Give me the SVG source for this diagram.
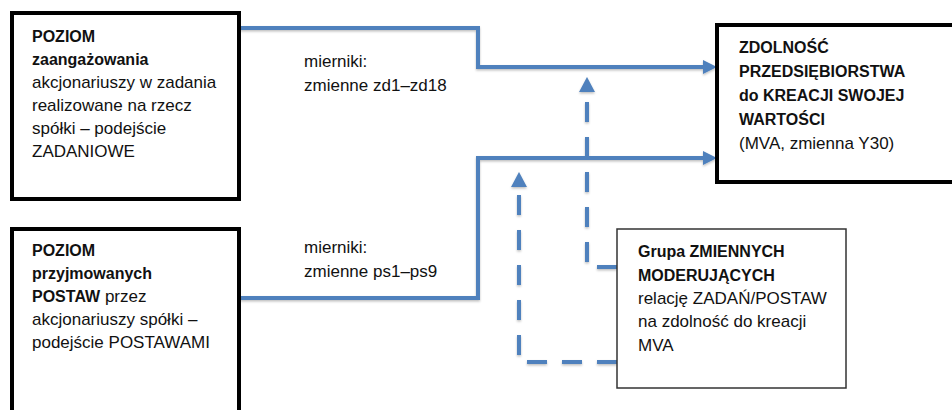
<svg xmlns="http://www.w3.org/2000/svg" width="952" height="410" viewBox="0 0 952 410">
  <style>
    .box { fill: #ffffff; stroke: #000000; stroke-width: 4; }
    .thin { fill: #ffffff; stroke: #333333; stroke-width: 1.5; }
    text { font-family: "Liberation Sans", Arial, sans-serif; font-size: 17px; fill: #111111; }
    .b { font-weight: bold; font-size: 16px; }
    .link { fill: none; stroke: #4F81BD; stroke-width: 4; }
    .dash { stroke-dasharray: 20 15; }
  </style>
  <defs>
    <marker id="arrow" markerUnits="userSpaceOnUse" markerWidth="16" markerHeight="16" viewBox="0 -8 16 16" refX="0" refY="0" orient="auto">
      <path d="M0,-7 L14,0 L0,7 z" fill="#4F81BD"/>
    </marker>
    <marker id="arrowUp" markerUnits="userSpaceOnUse" markerWidth="16" markerHeight="18" viewBox="0 -9 16 18" refX="0" refY="0" orient="auto">
      <path d="M0,-8 L15,0 L0,8 z" fill="#4F81BD"/>
    </marker>
    <filter id="soft" x="-5%" y="-5%" width="110%" height="120%">
      <feDropShadow dx="0" dy="1.5" stdDeviation="1" flood-color="#000000" flood-opacity="0.25"/>
    </filter>
  </defs>

  <!-- connectors -->
  <g id="connectors" filter="url(#soft)">
    <path class="link" d="M240,28 H478 V67 H703" marker-end="url(#arrow)"/>
    <path class="link" d="M240,298 H478 V158 H703" marker-end="url(#arrow)"/>
    <path class="link dash" d="M617,267 H587 V92" marker-end="url(#arrowUp)"/>
    <path class="link dash" d="M617,362 H519 V187" marker-end="url(#arrowUp)"/>
  </g>

  <!-- engagement level -->
  <g id="node-zadania">
    <rect class="box" x="12" y="13" width="227" height="186"/>
    <text x="32" y="42" class="b">POZIOM</text>
    <text x="32" y="65" class="b">zaangażowania</text>
    <text x="32" y="88">akcjonariuszy w zadania</text>
    <text x="32" y="111">realizowane na rzecz</text>
    <text x="32" y="134">spółki – podejście</text>
    <text x="32" y="157">ZADANIOWE</text>
  </g>

  <!-- attitudes level -->
  <g id="node-postawy">
    <rect class="box" x="12" y="229" width="227" height="200"/>
    <text x="32" y="256" class="b">POZIOM</text>
    <text x="32" y="279" class="b">przyjmowanych</text>
    <text x="32" y="302"><tspan class="b">POSTAW</tspan> przez</text>
    <text x="32" y="325">akcjonariuszy spółki  –</text>
    <text x="32" y="348">podejście POSTAWAMI</text>
  </g>

  <!-- measure labels -->
  <g id="label-zd">
    <text x="304" y="67">mierniki:</text>
    <text x="304" y="91">zmienne zd1–zd18</text>
  </g>
  <g id="label-ps">
    <text x="304" y="253">mierniki:</text>
    <text x="304" y="277">zmienne ps1–ps9</text>
  </g>

  <!-- outcome -->
  <g id="node-mva">
    <rect class="box" x="717" y="25" width="250" height="157"/>
    <text x="739" y="53" class="b">ZDOLNOŚĆ</text>
    <text x="739" y="77" class="b">PRZEDSIĘBIORSTWA</text>
    <text x="739" y="101" class="b">do KREACJI SWOJEJ</text>
    <text x="739" y="125" class="b">WARTOŚCI</text>
    <text x="739" y="149">(MVA, zmienna Y30)</text>
  </g>

  <!-- moderating variables -->
  <g id="node-moderatory">
    <rect class="thin" x="617" y="229" width="229" height="159"/>
    <text x="638" y="257" class="b">Grupa ZMIENNYCH</text>
    <text x="638" y="281" class="b">MODERUJĄCYCH</text>
    <text x="638" y="304">relację ZADAŃ/POSTAW</text>
    <text x="638" y="327">na zdolność do kreacji</text>
    <text x="638" y="351">MVA</text>
  </g>
</svg>
